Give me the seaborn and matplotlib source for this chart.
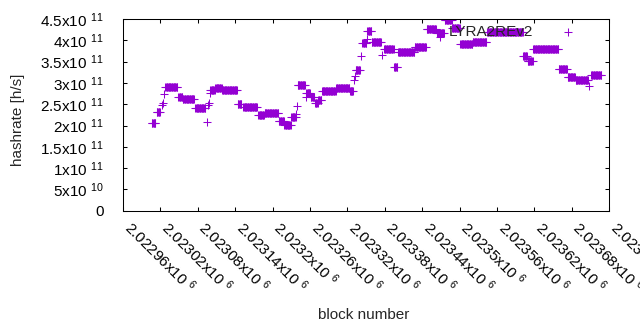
import numpy as np
import pandas as pd
import matplotlib
matplotlib.use("Agg")
import matplotlib.pyplot as plt
import matplotlib.transforms as mtransforms
import seaborn as sns

# runs of blocks with the same hashrate (x 1e11 h/s)
run_start = [2023006, 2023014, 2023028, 2023049, 2023056, 2023076, 2023100, 2023108,
             2023119, 2023144, 2023153, 2023177, 2023187, 2023210, 2023219, 2023230,
             2023240, 2023254, 2023261, 2023268, 2023273, 2023279, 2023302, 2023324,
             2023333, 2023344, 2023352, 2023359, 2023379, 2023395, 2023401, 2023428,
             2023447, 2023463, 2023476, 2023488, 2023501, 2023521, 2023544, 2023602,
             2023609, 2023618, 2023659, 2023673, 2023686, 2023711]
run_end = [2023012, 2023019, 2023047, 2023055, 2023074, 2023092, 2023107, 2023118,
           2023143, 2023150, 2023175, 2023186, 2023209, 2023218, 2023229, 2023237,
           2023252, 2023260, 2023267, 2023272, 2023278, 2023301, 2023323, 2023329,
           2023340, 2023350, 2023358, 2023374, 2023394, 2023400, 2023427, 2023446,
           2023462, 2023475, 2023487, 2023500, 2023520, 2023543, 2023601, 2023608,
           2023617, 2023658, 2023672, 2023685, 2023706, 2023727]
run_rate = [2.05, 2.31, 2.90, 2.66, 2.62, 2.40, 2.83, 2.89,
            2.84, 2.50, 2.43, 2.24, 2.29, 2.10, 2.01, 2.20,
            2.94, 2.76, 2.68, 2.53, 2.61, 2.80, 2.87, 2.82,
            3.30, 3.93, 4.21, 3.95, 3.79, 3.37, 3.73, 3.85,
            4.26, 4.18, 4.47, 4.28, 3.91, 3.97, 4.20, 3.62,
            3.51, 3.79, 3.33, 3.13, 3.07, 3.18]

# single blocks in between the runs
single_block = [2023022, 2023024, 2023026, 2023094, 2023097, 2023098, 2023099,
                2023238, 2023239, 2023253, 2023330, 2023332, 2023341, 2023351,
                2023376, 2023468, 2023708]
single_rate = [2.48, 2.53, 2.73, 2.09, 2.48, 2.53, 2.76,
               2.26, 2.46, 2.68, 3.07, 3.17, 3.63, 4.03,
               3.65, 4.08, 2.93]

x_ticks = [2022960, 2023020, 2023080, 2023140, 2023200, 2023260, 2023320,
           2023380, 2023440, 2023500, 2023560, 2023620, 2023680, 2023740]
x_tick_text = ["2.02296", "2.02302", "2.02308", "2.02314", "2.0232", "2.02326", "2.02332",
               "2.02338", "2.02344", "2.0235", "2.02356", "2.02362", "2.02368", "2.02374"]
y_ticks = [0, 0.5e11, 1e11, 1.5e11, 2e11, 2.5e11, 3e11, 3.5e11, 4e11, 4.5e11]
y_tick_text = ["0", "5x10 $^{10}$", "1x10 $^{11}$", "1.5x10 $^{11}$", "2x10 $^{11}$",
               "2.5x10 $^{11}$", "3x10 $^{11}$", "3.5x10 $^{11}$", "4x10 $^{11}$", "4.5x10 $^{11}$"]

blocks = []
rates = []
for a, b, r in zip(run_start, run_end, run_rate):
    for blk in range(a, b + 1):
        blocks.append(blk)
        rates.append(r * 1e11)
for blk, r in zip(single_block, single_rate):
    blocks.append(blk)
    rates.append(r * 1e11)
df = pd.DataFrame({"block": blocks, "hashrate": rates})

sns.set_style("ticks")
plt.rcParams["font.family"] = ["Liberation Sans", "DejaVu Sans"]
plt.rcParams["mathtext.fontset"] = "custom"
plt.rcParams["mathtext.rm"] = "Liberation Sans"
plt.rcParams["mathtext.it"] = "Liberation Sans:italic"
plt.rcParams["mathtext.bf"] = "Liberation Sans:bold"

fig, ax = plt.subplots(figsize=(6.4, 3.3), dpi=100)
fig.subplots_adjust(left=0.1922, right=0.952, bottom=0.3615, top=0.9424)

sns.scatterplot(data=df, x="block", y="hashrate", marker="+", s=28,
                color="#9400d3", linewidth=0.75, label="LYRA2REv2", ax=ax)

ax.set_xlim(2022960, 2023740)
ax.set_ylim(0, 4.5e11)
ax.set_xticks(x_ticks)
ax.set_xticklabels([t + "x10 $^{6}$" for t in x_tick_text])
ax.set_yticks(y_ticks)
ax.set_yticklabels(y_tick_text)

for sp in ax.spines.values():
    sp.set_linewidth(0.75)
    sp.set_color("black")
ax.tick_params(direction="in", length=3, width=0.75, top=True, right=True,
               labelsize=11, colors="black")
ax.tick_params(axis="y", pad=14)
ax.tick_params(axis="x", pad=10)
shift = mtransforms.ScaledTranslation(3 / 72, 0, fig.dpi_scale_trans)
for lab in ax.get_xticklabels():
    lab.set_rotation(-45)
    lab.set_ha("left")
    lab.set_va("center")
    lab.set_rotation_mode("anchor")
    lab.set_transform(lab.get_transform() + shift)

ax.set_xlabel("block number", fontsize=11)
ax.set_ylabel("hashrate [h/s]", fontsize=11)
ax.xaxis.set_label_coords(0.495, -0.505)
ax.yaxis.set_label_coords(-0.2015, 0.475)

ax.legend(loc="center right", bbox_to_anchor=(0.946, 0.9306), frameon=False,
          markerfirst=False, handlelength=2, handletextpad=1.25,
          borderpad=0, borderaxespad=0, fontsize=11)

plt.savefig("out.png", dpi=100)
